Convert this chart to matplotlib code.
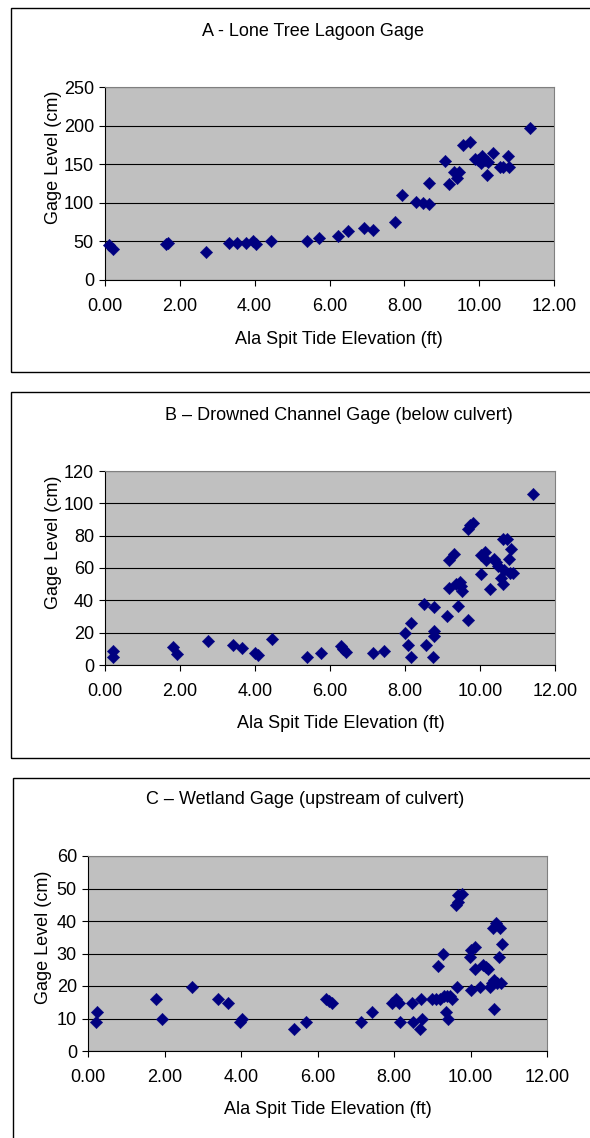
import matplotlib
matplotlib.use('Agg')
import matplotlib.pyplot as plt
from matplotlib.patches import Rectangle

plt.rcParams['font.family'] = ['Liberation Sans', 'DejaVu Sans']

# figure size in pixels
W, H = 590, 1138

# A - Lone Tree Lagoon gage
tide_a = [0.12, 0.22, 1.62, 1.68, 2.70, 3.32, 3.52, 3.76, 3.96, 4.03, 4.43,
          5.39, 5.73, 6.24, 6.49, 6.93, 7.15, 7.75, 7.95, 8.31, 8.51, 8.67,
          8.67, 9.09, 9.20, 9.33, 9.40, 9.47, 9.58, 9.75, 9.89, 9.98, 10.04,
          10.07, 10.16, 10.20, 10.24, 10.36, 10.56, 10.63, 10.78, 10.81, 11.36]
gage_a = [45, 40, 46, 48, 36, 48, 48, 48, 50, 47, 51,
          51, 55, 57, 63, 68, 65, 75, 110, 101, 100, 99,
          126, 154, 124, 140, 132, 140, 175, 179, 157, 155, 152,
          160, 155, 136, 153, 165, 146, 147, 161, 147, 197]

# B - Drowned Channel gage
tide_b = [0.20, 0.20, 1.81, 1.93, 2.74, 3.41, 3.66, 4.01, 4.07, 4.46,
          5.39, 5.77, 6.28, 6.35, 6.42, 7.14, 7.45, 8.00, 8.09, 8.15,
          8.17, 8.51, 8.56, 8.74, 8.76, 8.77, 8.76, 9.13, 9.16, 9.18,
          9.31, 9.35, 9.42, 9.47, 9.49, 9.53, 9.68, 9.67, 9.74, 9.80,
          10.02, 10.04, 10.13, 10.16, 10.27, 10.36, 10.42, 10.49, 10.56, 10.60,
          10.60, 10.72, 10.82, 10.78, 10.81, 10.87, 10.65, 11.40]
gage_b = [8.9, 5.2, 11.4, 6.6, 15.1, 12.4, 10.3, 7.2, 6.2, 16.1,
          5.2, 7.4, 11.8, 9.9, 8.3, 7.4, 8.5, 19.9, 12.6, 5.2,
          25.9, 37.9, 12.6, 5.2, 35.6, 21.1, 18.2, 30.6, 64.8, 47.4,
          68.9, 50.1, 36.6, 51.3, 48.6, 45.5, 27.9, 84.2, 86.9, 87.9,
          67.9, 56.3, 70.1, 65.2, 47.2, 65.8, 63.7, 61.0, 53.8, 50.1,
          78.2, 78.2, 71.8, 65.6, 56.9, 56.9, 59.0, 105.7]

# C - Wetland gage
tide_c = [0.22, 0.24, 1.79, 1.93, 2.71, 3.41, 3.66, 3.98, 4.03, 5.39,
          5.71, 6.23, 6.30, 6.38, 7.15, 7.43, 7.96, 8.04, 8.13, 8.15,
          8.47, 8.50, 8.67, 8.71, 8.73, 9.00, 9.09, 9.16, 9.19, 9.28,
          9.31, 9.37, 9.39, 9.41, 9.47, 9.52, 9.61, 9.66, 9.67, 9.67,
          9.78, 9.98, 10.02, 10.00, 10.11, 10.11, 10.26, 10.33, 10.40, 10.46,
          10.52, 10.57, 10.59, 10.61, 10.61, 10.67, 10.69, 10.74, 10.78, 10.81,
          10.83]
gage_c = [9.0, 12.1, 15.9, 10.0, 19.8, 15.9, 14.8, 9.0, 10.0, 6.7,
          9.0, 15.9, 15.4, 14.8, 9.0, 12.1, 14.8, 15.9, 14.8, 9.0,
          14.8, 9.0, 6.7, 15.9, 10.0, 15.9, 15.9, 26.1, 15.9, 29.8,
          16.9, 12.1, 16.9, 10.0, 16.9, 15.9, 44.8, 19.8, 45.9, 47.9,
          48.2, 29.0, 31.0, 18.7, 32.0, 25.2, 19.8, 26.4, 25.9, 25.1,
          19.8, 20.8, 38.0, 12.9, 21.8, 39.4, 20.8, 29.0, 38.0, 20.8,
          32.9]

titles = ['A - Lone Tree Lagoon Gage',
          'B \u2013 Drowned Channel Gage (below culvert)',
          'C \u2013 Wetland Gage (upstream of culvert)']
xticks = [0, 2, 4, 6, 8, 10, 12]
yticks_a = [0, 50, 100, 150, 200, 250]
yticks_b = [0, 20, 40, 60, 80, 100, 120]
yticks_c = [0, 10, 20, 30, 40, 50, 60]


def fx(px):
    return px / W


def fy(py):
    return 1 - py / H


fig = plt.figure(figsize=(W / 100, H / 100), dpi=100)

# panel layout in pixels: box, plot area, title/label positions
panels = [
    dict(x=tide_a, y=gage_a, yt=yticks_a, title=titles[0],
         box=(11, 8, 372), plot=(105, 554, 87, 280),
         tpos=(313, 32), xl=(339, 339), yl=(53, 157)),
    dict(x=tide_b, y=gage_b, yt=yticks_b, title=titles[1],
         box=(11, 392, 758), plot=(105, 555, 471, 665),
         tpos=(339, 415), xl=(341, 723), yl=(53, 542)),
    dict(x=tide_c, y=gage_c, yt=yticks_c, title=titles[2],
         box=(13, 778, 1150), plot=(88, 547, 856, 1051),
         tpos=(305, 800), xl=(328, 1110), yl=(44, 937)),
]

for p in panels:
    bl, bt, bb = p['box']
    fig.patches.append(Rectangle((fx(bl), fy(bb)), fx(W + 20 - bl), (bb - bt) / H,
                                 transform=fig.transFigure, fill=False,
                                 edgecolor='black', linewidth=1.0))
    l, r, t, b = p['plot']
    ax = fig.add_axes([fx(l), fy(b), (r - l) / W, (b - t) / H])
    ax.set_facecolor('#C0C0C0')
    ax.scatter(p['x'], p['y'], marker='D', s=40, color='#000080',
               edgecolors='#000080', linewidths=0.3, zorder=3, clip_on=False)
    ax.set_xlim(0, 12)
    ax.set_ylim(p['yt'][0], p['yt'][-1])
    ax.set_xticks(xticks)
    ax.set_xticklabels(['%.2f' % v for v in xticks])
    ax.set_yticks(p['yt'])
    ax.yaxis.grid(True, color='black', linewidth=0.8)
    ax.set_axisbelow(True)
    for s in ['top', 'right']:
        ax.spines[s].set_color('#808080')
    for s in ['left', 'bottom']:
        ax.spines[s].set_color('black')
    ax.tick_params(axis='x', direction='out', length=4, pad=9, labelsize=13)
    ax.tick_params(axis='y', direction='out', length=4, pad=4, labelsize=13)
    fig.text(fx(p['tpos'][0]), fy(p['tpos'][1]), p['title'], ha='center',
             va='center', fontsize=13)
    fig.text(fx(p['xl'][0]), fy(p['xl'][1]), 'Ala Spit Tide Elevation (ft)',
             ha='center', va='center', fontsize=13)
    fig.text(fx(p['yl'][0]), fy(p['yl'][1]), 'Gage Level (cm)', ha='center',
             va='center', rotation=90, fontsize=13)

fig.savefig('out.png', dpi=100)
